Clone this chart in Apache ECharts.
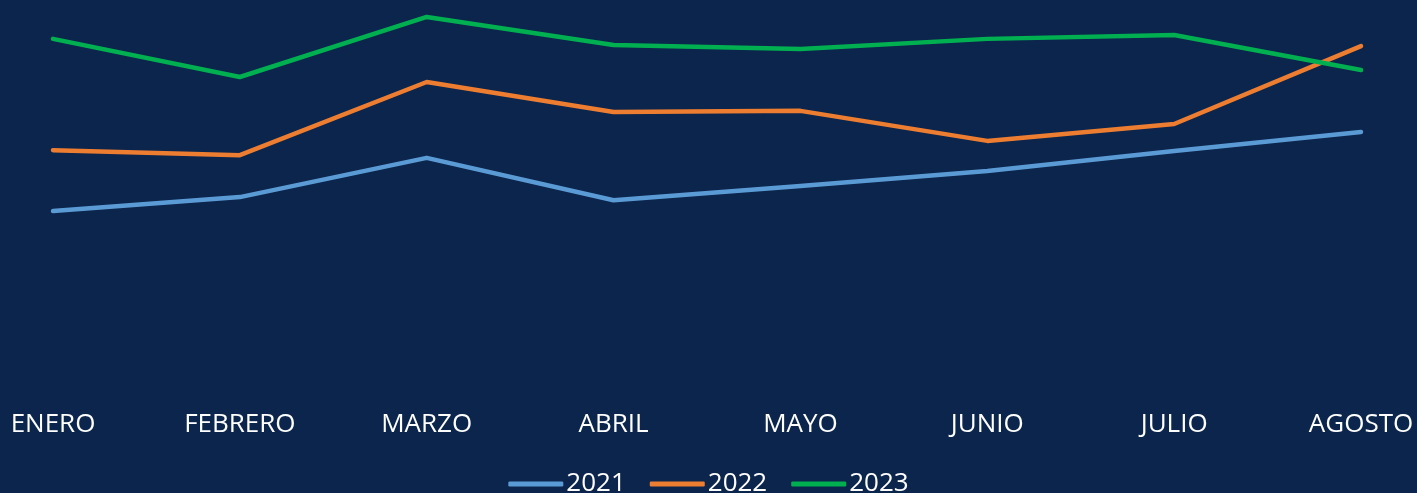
<!DOCTYPE html>
<html>
<head>
<meta charset="utf-8">
<script src="https://cdn.jsdelivr.net/npm/echarts@6/dist/echarts.min.js"></script>
<style>
  html, body { margin: 0; padding: 0; background: #0b254c; }
  #chart { width: 1417px; height: 493px; }
</style>
</head>
<body>
<div id="chart"></div>
<script>
const meses = ['ENERO', 'FEBRERO', 'MARZO', 'ABRIL', 'MAYO', 'JUNIO', 'JULIO', 'AGOSTO']
const anios = ['2021', '2022', '2023']
const datos2021 = [47.8, 51.4, 61.6, 50.6, 54.3, 58.2, 63.4, 68.3]
const datos2022 = [63.6, 62.3, 81.3, 73.5, 73.8, 66.0, 70.4, 90.6]
const datos2023 = [92.5, 82.6, 98.2, 90.9, 89.9, 92.5, 93.5, 84.4]
const colores = ['#5b9bd5', '#ed7d31', '#00b050']

const chart = echarts.init(document.getElementById('chart'))

const serie = (nombre, datos, color) => ({
  name: nombre,
  type: 'line',
  data: datos,
  showSymbol: false,
  symbol: 'none',
  lineStyle: { color: color, width: 4.5, cap: 'round', join: 'round' },
  itemStyle: { color: color },
})

chart.setOption({
  backgroundColor: '#0b254c',
  color: colores,
  textStyle: { fontFamily: 'Open Sans' },
  grid: { left: 53, right: 56, top: 10, bottom: 98 },
  xAxis: {
    type: 'category',
    data: meses,
    boundaryGap: false,
    axisLine: { show: false },
    axisTick: { show: false },
    axisLabel: { color: '#ffffff', fontSize: 26, margin: 17 },
  },
  yAxis: {
    type: 'value',
    min: 0,
    max: 100,
    show: false,
  },
  legend: {
    data: anios,
    bottom: -9,
    left: 'center',
    icon: 'roundRect',
    itemWidth: 55,
    itemHeight: 5,
    itemGap: 24,
    textStyle: { color: '#ffffff', fontSize: 26, padding: [0, 0, 0, -2] },
  },
  series: [
    serie(anios[0], datos2021, colores[0]),
    serie(anios[1], datos2022, colores[1]),
    serie(anios[2], datos2023, colores[2]),
  ],
})
</script>
</body>
</html>
